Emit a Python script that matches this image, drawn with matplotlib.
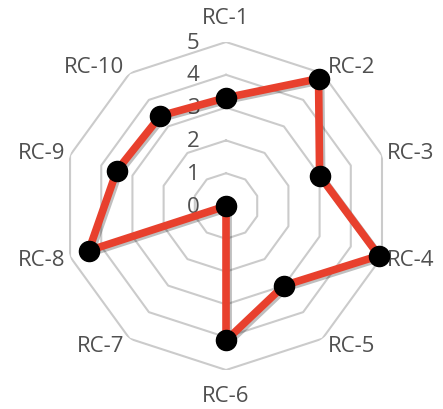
import numpy as np
import matplotlib
matplotlib.use('Agg')
import matplotlib.pyplot as plt
import matplotlib.patheffects as pe
from matplotlib.transforms import offset_copy

# data
categories = ['RC-1', 'RC-2', 'RC-3', 'RC-4', 'RC-5', 'RC-6', 'RC-7', 'RC-8', 'RC-9', 'RC-10']
values = [3.3, 4.8, 3.0, 4.9, 3.0, 4.1, 0.0, 4.4, 3.5, 3.4]
rings = [1, 2, 3, 4, 5]
tick_labels = ['0', '1', '2', '3', '4', '5']

plt.rcParams['font.family'] = ['Open Sans', 'DejaVu Sans']

fig = plt.figure(figsize=(4.43, 4.10), dpi=100)
ax = fig.add_axes([0.14, 0.0951, 0.7404, 0.8], projection='polar')
ax.set_theta_zero_location('N')
ax.set_theta_direction(-1)
ax.set_ylim(0, 5)
ax.grid(False)
ax.spines['polar'].set_visible(False)
ax.set_xticks([])
ax.set_yticks([])
ax.patch.set_alpha(0)

n = len(categories)
theta = np.linspace(0, 2 * np.pi, n, endpoint=False)
theta_closed = np.append(theta, theta[0])

# decagon grid
for r in rings:
    ax.plot(theta_closed, [r] * (n + 1), color='#cbcbcb', lw=1.5, zorder=1)

# radial tick labels, shifted left of the vertical axis
tick_tr = offset_copy(ax.transData, fig=fig, x=-33, y=0, units='dots')
for i, lab in enumerate(tick_labels):
    ax.text(0, i, lab, transform=tick_tr, ha='center', va='center',
            fontsize=16, color='#505050', zorder=2)

# category labels
for a, lab in zip(theta, categories):
    s, c = np.sin(a), np.cos(a)
    if abs(s) < 0.1:
        ha = 'center'
        dx, dy = 0, 25 * np.sign(c)
    else:
        ha = 'left' if s > 0 else 'right'
        dx, dy = 5 * np.sign(s), 8 * c
    ax.annotate(lab, xy=(a, 5), xytext=(dx, dy), textcoords='offset pixels',
                ha=ha, va='center', fontsize=16, color='#505050',
                annotation_clip=False)

vals_closed = values + values[:1]
shadow = [pe.SimpleLineShadow(offset=(1.5, -1.5), shadow_color='black', alpha=0.25), pe.Normal()]
ax.plot(theta_closed, vals_closed, color='#e8402d', lw=5.5, zorder=3,
        solid_joinstyle='miter', path_effects=shadow, clip_on=False)
ax.plot(theta, values, 'o', color='black', markersize=14.5, zorder=4, clip_on=False)

fig.savefig('out.png', dpi=100)
